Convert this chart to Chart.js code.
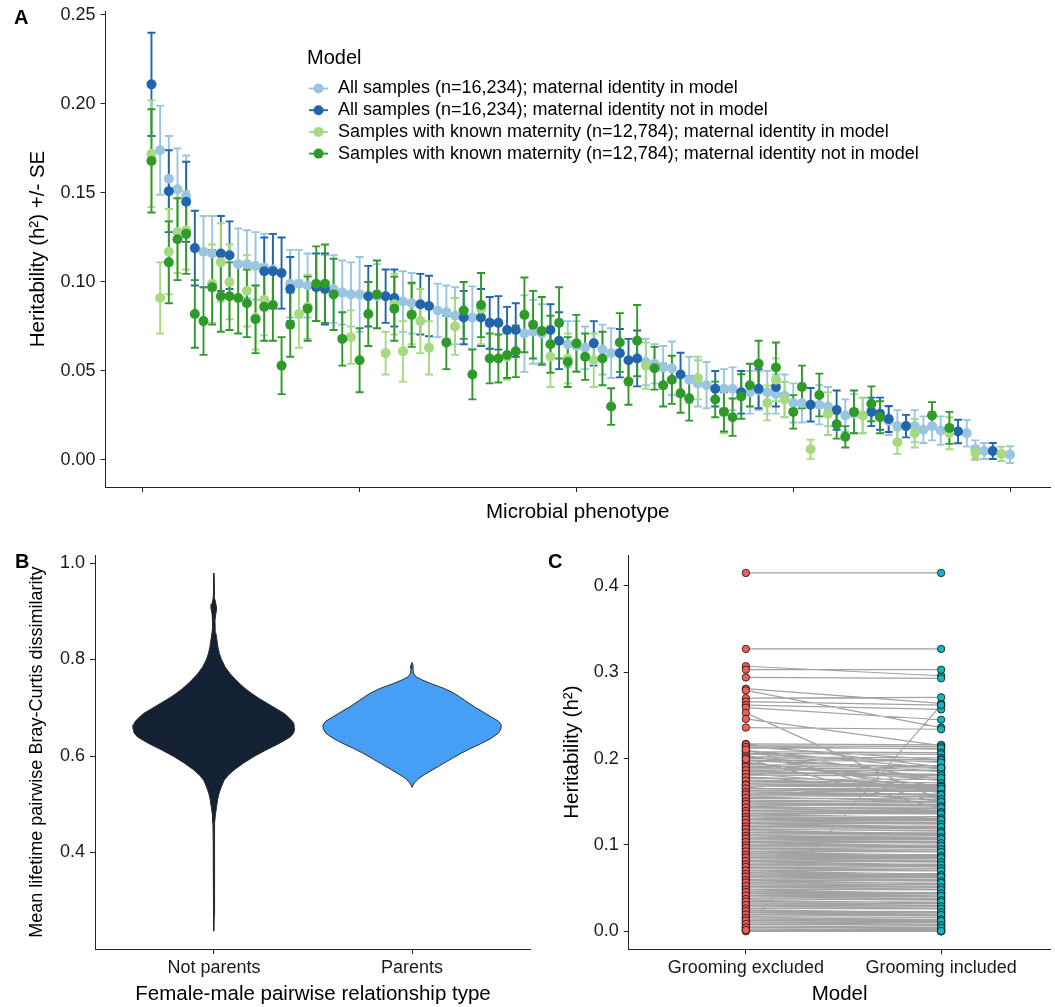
<!DOCTYPE html>
<html lang="en">
<head>
<meta charset="utf-8">
<title>Heritability of microbial phenotypes</title>
<script src="https://cdn.jsdelivr.net/npm/chart.js@4.4.1/dist/chart.umd.min.js"></script>
<style>
  html, body { margin: 0; padding: 0; background: #ffffff; }
  #page { position: relative; width: 1055px; height: 1007px; overflow: hidden; background: #ffffff; }
  #page canvas { position: absolute; }
</style>
</head>
<body>
<div id="page">
  <canvas id="panelA" width="1055" height="530" style="left:0;top:0"></canvas>
  <canvas id="panelB" width="531" height="477" style="left:0;top:530px"></canvas>
  <canvas id="panelC" width="524" height="477" style="left:531px;top:530px"></canvas>
</div>
<script>
// ---------------------------------------------------------------------------
// Panel A: heritability (+/- SE) of 100 microbial phenotypes under four models
// ---------------------------------------------------------------------------
const modelNames = [
  'All samples (n=16,234); maternal identity in model',
  'All samples (n=16,234); maternal identity not in model',
  'Samples with known maternity (n=12,784); maternal identity in model',
  'Samples with known maternity (n=12,784); maternal identity not in model'
];
const phenotypeTicks = [0, 25, 50, 75, 100];
const heritabilityTicks = [0, 0.05, 0.10, 0.15, 0.20, 0.25];

// All samples, maternal identity in model
const allMatInH2 = [
  null, 0.174, 0.158, 0.152, 0.148, null, 0.117, 0.116, null, null,
  0.110, 0.110, 0.109, 0.108, 0.107, null, 0.099, 0.099, 0.098, null,
  0.096, 0.096, 0.094, 0.093, 0.093, null, 0.092, null, null, 0.089,
  0.088, null, null, 0.084, 0.083, 0.081, null, 0.080, null, null,
  null, null, null, 0.071, 0.072, 0.071, null, null, 0.065, 0.064,
  0.063, null, 0.062, 0.060, null, null, null, 0.055, 0.054, 0.052,
  0.0515, null, 0.045, 0.043, 0.042, null, 0.040, 0.040, null, 0.038,
  0.039, 0.038, 0.037, 0.036, 0.032, 0.032, null, 0.031, 0.030, null,
  0.025, 0.026, 0.025, null, null, 0.022, 0.019, null, 0.019, 0.017,
  0.019, 0.0165, null, null, 0.015, 0.006, 0.005, null, null, 0.003
];
const allMatInSE = [
  null, 0.025, 0.024, 0.023, 0.023, null, 0.020, 0.021, null, null,
  0.020, 0.019, 0.019, 0.019, 0.020, null, 0.019, 0.019, 0.018, null,
  0.019, 0.019, 0.018, 0.018, 0.021, null, 0.018, null, null, 0.017,
  0.017, null, null, 0.015, 0.015, 0.016, null, 0.0175, null, null,
  null, null, null, 0.0215, 0.018, 0.0165, null, null, 0.013, 0.014,
  0.012, null, 0.014, 0.014, null, null, null, 0.013, 0.011, 0.012,
  0.015, null, 0.013, 0.013, 0.013, null, 0.011, 0.012, null, 0.012,
  0.011, 0.012, 0.011, 0.012, 0.011, 0.011, null, 0.011, 0.011, null,
  0.009, 0.011, 0.010, null, null, 0.008, 0.009, null, 0.009, 0.0075,
  0.008, 0.008, null, null, 0.0075, 0.005, 0.0045, null, null, 0.0047
];

// All samples, maternal identity not in model
const allMatOutH2 = [
  0.211, null, 0.151, null, 0.145, 0.119, null, null, 0.116, 0.115,
  null, null, null, 0.106, 0.106, 0.105, 0.096, null, null, 0.097,
  0.096, null, null, null, null, 0.092, null, 0.092, 0.091, null,
  null, 0.0875, 0.0865, null, null, null, 0.080, null, 0.080, 0.077,
  0.077, 0.073, 0.073, null, null, null, 0.073, 0.067, null, null,
  null, 0.0655, null, null, 0.060, 0.056, 0.057, null, null, null,
  null, 0.048, null, null, null, 0.040, null, null, 0.038, null,
  0.040, null, 0.041, null, null, null, 0.031, null, null, 0.028,
  null, null, null, 0.027, 0.026, 0.023, null, 0.019, null, null,
  null, null, null, 0.016, null, null, null, 0.005, null, null
];
const allMatOutSE = [
  0.029, null, 0.023, null, 0.0225, 0.021, null, null, 0.021, 0.019,
  null, null, null, 0.019, 0.021, 0.020, 0.018, null, null, 0.019,
  0.020, null, null, null, null, 0.017, null, 0.015, 0.016, null,
  null, 0.017, 0.017, null, null, null, 0.015, null, 0.016, 0.0145,
  0.015, 0.013, 0.015, null, null, null, 0.0145, 0.016, null, null,
  null, 0.0125, null, null, 0.0136, 0.012, 0.0157, null, null, null,
  null, 0.0122, null, null, null, 0.010, null, null, 0.012, null,
  0.011, null, 0.011, null, null, null, 0.0094, null, null, 0.011,
  null, null, null, 0.008, 0.009, 0.0073, null, 0.0063, null, null,
  null, null, null, 0.0066, null, null, null, 0.0045, null, null
];

// Known maternity, maternal identity in model
const knownMatInH2 = [
  0.172, 0.091, 0.117, 0.128, 0.129, null, null, 0.099, 0.111, 0.100,
  null, 0.095, 0.080, 0.090, null, null, null, 0.082, 0.086, null,
  null, null, null, 0.069, null, null, null, 0.060, 0.0875, 0.061,
  0.082, 0.078, 0.063, null, null, 0.075, null, null, 0.085, null,
  null, 0.058, null, null, null, null, 0.058, null, 0.057, null,
  null, 0.056, null, null, null, null, null, 0.053, null, null,
  null, null, null, 0.046, null, null, 0.027, null, null, null,
  null, 0.032, 0.045, 0.034, null, null, 0.006, null, 0.026, null,
  null, null, 0.025, null, null, null, 0.010, null, 0.015, null,
  null, null, 0.015, null, null, 0.004, null, null, 0.0034, null
];
const knownMatInSE = [
  0.030, 0.020, 0.024, 0.023, 0.022, null, null, 0.022, 0.022, 0.021,
  null, 0.020, 0.018, 0.020, null, null, null, 0.019, 0.018, null,
  null, null, null, 0.015, null, null, null, 0.012, 0.017, 0.017,
  0.017, 0.018, 0.015, null, null, 0.016, null, null, 0.020, null,
  null, 0.013, null, null, null, null, 0.017, null, 0.014, null,
  null, 0.015, null, null, null, null, null, 0.013, null, null,
  null, null, null, 0.012, null, null, 0.012, null, null, null,
  null, 0.0098, 0.012, 0.0098, null, null, 0.0054, null, 0.012, null,
  null, null, 0.010, null, null, null, 0.0066, null, 0.008, null,
  null, null, 0.009, null, null, 0.004, null, null, 0.004, null
];

// Known maternity, maternal identity not in model
const knownMatOutH2 = [
  0.168, null, 0.111, 0.124, 0.127, 0.082, 0.078, 0.097, 0.092, 0.092,
  0.091, 0.088, 0.079, 0.086, 0.087, 0.053, 0.076, null, 0.085, 0.099,
  0.099, 0.093, 0.068, null, 0.056, 0.082, 0.093, null, 0.085, null,
  0.0815, null, null, null, 0.066, null, 0.084, 0.048, 0.087, 0.057,
  0.057, 0.059, 0.061, 0.0815, 0.076, 0.0725, 0.065, 0.077, 0.055, 0.0655,
  0.058, null, 0.057, 0.030, 0.066, 0.044, 0.067, null, 0.0515, 0.042,
  0.045, 0.0375, 0.0346, null, null, 0.034, 0.027, 0.024, 0.0356, 0.042,
  0.054, null, 0.052, null, 0.027, 0.041, null, 0.0365, null, 0.020,
  0.013, 0.027, null, 0.0315, 0.024, null, null, null, null, null,
  0.025, null, 0.018, null, null, null, null, null, null, null
];
const knownMatOutSE = [
  0.029, null, 0.023, 0.023, 0.0225, 0.019, 0.019, 0.021, 0.020, 0.019,
  0.020, 0.019, 0.019, 0.019, 0.020, 0.016, 0.018, null, 0.018, 0.021,
  0.022, 0.020, 0.015, null, 0.018, 0.018, 0.019, null, 0.018, null,
  0.018, null, null, null, 0.015, null, 0.016, 0.014, 0.018, 0.014,
  0.0135, 0.013, 0.0145, 0.021, 0.019, 0.019, 0.016, 0.020, 0.014, 0.016,
  0.013, null, 0.015, 0.0103, 0.0165, 0.013, 0.020, null, 0.012, 0.012,
  0.0135, 0.011, 0.0125, null, null, 0.010, 0.011, 0.0105, 0.0125, 0.012,
  0.013, null, 0.014, null, 0.0094, 0.012, null, 0.012, null, 0.008,
  0.006, 0.012, null, 0.0098, 0.009, null, null, null, null, null,
  0.0075, null, 0.009, null, null, null, null, null, null, null
];

// ---------------------------------------------------------------------------
// Panel B: violin profiles of mean lifetime Bray-Curtis dissimilarity
// (dissimilarity value, relative density)
// ---------------------------------------------------------------------------
const relationshipTypes = ['Not parents', 'Parents'];
const dissimilarityTicks = [0.4, 0.6, 0.8, 1.0];
const notParentsDissim = [
  0.237, 0.270, 0.320, 0.370, 0.420, 0.461, 0.480, 0.495, 0.510, 0.523,
  0.537, 0.550, 0.560, 0.571, 0.585, 0.599, 0.612, 0.623, 0.632, 0.640,
  0.648, 0.657, 0.665, 0.671, 0.680, 0.688, 0.698, 0.709, 0.720, 0.730,
  0.740, 0.750, 0.760, 0.771, 0.785, 0.800, 0.812, 0.826, 0.840, 0.855,
  0.868, 0.881, 0.893, 0.905, 0.915, 0.925, 0.940, 0.960, 0.979
];
const notParentsDensity = [
  0.000, 0.004, 0.005, 0.006, 0.008, 0.011, 0.018, 0.030, 0.042, 0.058,
  0.085, 0.115, 0.160, 0.225, 0.330, 0.450, 0.580, 0.700, 0.790, 0.860,
  0.895, 0.906, 0.900, 0.885, 0.840, 0.790, 0.700, 0.600, 0.500, 0.420,
  0.350, 0.290, 0.235, 0.180, 0.125, 0.085, 0.062, 0.045, 0.034, 0.022,
  0.014, 0.012, 0.020, 0.031, 0.022, 0.011, 0.007, 0.005, 0.000
];
const parentsDissim = [
  0.535, 0.540, 0.545, 0.551, 0.557, 0.565, 0.578, 0.592, 0.606, 0.616,
  0.626, 0.636, 0.647, 0.656, 0.664, 0.672, 0.681, 0.692, 0.702, 0.716,
  0.730, 0.740, 0.750, 0.757, 0.764, 0.771, 0.780, 0.788, 0.794
];
const parentsDensity = [
  0.000, 0.012, 0.030, 0.060, 0.101, 0.170, 0.292, 0.420, 0.551, 0.660,
  0.775, 0.880, 0.966, 0.995, 1.000, 0.970, 0.888, 0.790, 0.697, 0.585,
  0.472, 0.360, 0.213, 0.120, 0.045, 0.018, 0.012, 0.011, 0.000
];

// ---------------------------------------------------------------------------
// Panel C: paired heritability estimates with and without grooming
// ---------------------------------------------------------------------------
const groomingModels = ['Grooming excluded', 'Grooming included'];
const h2Ticks = [0.0, 0.1, 0.2, 0.3, 0.4];
const groomingExcluded = [
  0.415, 0.327, 0.307, 0.303, 0.294, 0.281, 0.279, 0.270, 0.266, 0.262,
  0.259, 0.253, 0.246, 0.236, 0.004,
  0.217, 0.215, 0.214, 0.212, 0.210, 0.208, 0.206, 0.204, 0.202, 0.200,
  0.198, 0.196, 0.193, 0.191, 0.189, 0.187, 0.185, 0.183, 0.181, 0.179,
  0.177, 0.175, 0.173, 0.171,
  0.2165, 0.2135, 0.2095, 0.2055, 0.2015, 0.1975, 0.1945, 0.1905, 0.1865, 0.1825,
  0.1785, 0.1745, 0.2105, 0.1995,
  0.170, 0.168, 0.167, 0.165, 0.163, 0.162, 0.160, 0.159, 0.157, 0.156,
  0.154, 0.152, 0.151, 0.149, 0.148, 0.146, 0.145, 0.143, 0.142, 0.140,
  0.139, 0.137, 0.136, 0.134, 0.133, 0.131, 0.129, 0.128, 0.126, 0.125,
  0.123, 0.122, 0.120, 0.118, 0.117, 0.115, 0.114, 0.112, 0.111, 0.109,
  0.107, 0.106, 0.104, 0.103, 0.101, 0.100, 0.098, 0.096, 0.095, 0.093,
  0.092, 0.090, 0.089, 0.087, 0.085, 0.084, 0.082, 0.081, 0.079, 0.078,
  0.076, 0.074, 0.073, 0.071, 0.070, 0.068, 0.067, 0.065, 0.063, 0.062,
  0.060, 0.059, 0.057, 0.055, 0.054, 0.052, 0.051, 0.049, 0.048, 0.046,
  0.044, 0.043, 0.041, 0.040, 0.038, 0.036, 0.035, 0.033, 0.032, 0.030,
  0.029, 0.027, 0.025, 0.024, 0.022, 0.021, 0.019, 0.017, 0.016, 0.014,
  0.013, 0.011, 0.010, 0.008, 0.006, 0.005, 0.003, 0.002, 0.001, 0.000,
  0.1695, 0.1655, 0.1615, 0.1585, 0.1545, 0.1505, 0.1475, 0.1435, 0.1395, 0.1365,
  0.1325, 0.1295, 0.1255, 0.1215, 0.1185, 0.1145, 0.1105, 0.1075, 0.1035, 0.0995,
  0.0965, 0.0925, 0.0885, 0.0855, 0.0815, 0.0775, 0.0745, 0.0705, 0.0665, 0.0635,
  0.0595, 0.0565, 0.0525, 0.0485, 0.0455, 0.0415, 0.0375, 0.0345, 0.0305, 0.0265,
  0.0235, 0.0195, 0.0155, 0.0125, 0.0085, 0.0045, 0.0015
];
const groomingIncluded = [
  0.415, 0.327, 0.296, 0.303, 0.293, 0.264, 0.236, 0.271, 0.262, 0.257,
  0.245, 0.152, 0.215, 0.234, 0.262,
  0.216, 0.214, 0.211, 0.212, 0.176, 0.207, 0.205, 0.160, 0.201, 0.199,
  0.197, 0.168, 0.192, 0.190, 0.188, 0.186, 0.181, 0.182, 0.180, 0.163,
  0.176, 0.172, 0.170, 0.169,
  0.1905, 0.1985, 0.1885, 0.1955, 0.1845, 0.1895, 0.1745, 0.1805, 0.1775, 0.1655,
  0.1715, 0.1685, 0.1480, 0.1420,
  0.166, 0.167, 0.151, 0.163, 0.162, 0.157, 0.159, 0.155, 0.156, 0.150,
  0.153, 0.150, 0.149, 0.147, 0.146, 0.145, 0.140, 0.142, 0.139, 0.138,
  0.137, 0.136, 0.131, 0.133, 0.130, 0.129, 0.128, 0.126, 0.125, 0.121,
  0.122, 0.120, 0.119, 0.117, 0.113, 0.114, 0.112, 0.111, 0.108, 0.108,
  0.106, 0.104, 0.103, 0.099, 0.100, 0.098, 0.097, 0.095, 0.093, 0.092,
  0.088, 0.089, 0.087, 0.086, 0.084, 0.082, 0.081, 0.077, 0.078, 0.076,
  0.075, 0.073, 0.071, 0.070, 0.066, 0.067, 0.065, 0.064, 0.062, 0.060,
  0.059, 0.055, 0.056, 0.054, 0.052, 0.051, 0.049, 0.048, 0.044, 0.045,
  0.043, 0.041, 0.040, 0.038, 0.037, 0.033, 0.034, 0.032, 0.030, 0.029,
  0.027, 0.026, 0.022, 0.023, 0.021, 0.019, 0.018, 0.016, 0.013, 0.013,
  0.011, 0.010, 0.008, 0.007, 0.005, 0.003, 0.002, 0.001, 0.000, 0.000,
  0.1675, 0.1650, 0.1590, 0.1580, 0.1530, 0.1500, 0.1450, 0.1430, 0.1380, 0.1360,
  0.1310, 0.1290, 0.1240, 0.1210, 0.1160, 0.1140, 0.1090, 0.1070, 0.1020, 0.0990,
  0.0950, 0.0920, 0.0870, 0.0850, 0.0800, 0.0770, 0.0730, 0.0700, 0.0650, 0.0630,
  0.0580, 0.0560, 0.0510, 0.0480, 0.0440, 0.0410, 0.0360, 0.0340, 0.0290, 0.0260,
  0.0220, 0.0190, 0.0140, 0.0120, 0.0070, 0.0040, 0.0005
];

// ---------------------------------------------------------------------------
// Shared styling
// ---------------------------------------------------------------------------
const FONT = "'Liberation Sans', Arial, Helvetica, sans-serif";
const INK = '#1a1a1a';
const AXIS = '#222222';
Chart.defaults.font.family = FONT;
Chart.defaults.color = INK;

const modelColors = ['#9ac5e1', '#2166ac', '#a6da80', '#2f9a2a'];
const violinColors = ['#142033', '#469ff4'];
const groomingColors = ['#f25f5a', '#12b6bf'];

function tickGrid() {
  return { display: true, drawOnChartArea: false, drawTicks: true, tickLength: 5, color: AXIS, lineWidth: 1 };
}
function axisBorder() {
  return { display: true, color: AXIS, width: 1 };
}
function fixedTicks(values) {
  return scale => { scale.ticks = values.map(v => ({ value: v })); };
}
function fixWidth(w) {
  return scale => { scale.width = w; scale.paddingTop = 0; scale.paddingBottom = 0; };
}
function fixHeight(h) {
  return scale => { scale.height = h; scale.paddingLeft = 0; scale.paddingRight = 0; };
}

// Bold panel letter in the top-left corner
const panelTag = {
  id: 'panelTag',
  afterDraw(chart, args, opts) {
    const ctx = chart.ctx;
    ctx.save();
    ctx.font = `bold 20px ${FONT}`;
    ctx.fillStyle = '#000';
    ctx.textAlign = 'left';
    ctx.textBaseline = 'alphabetic';
    ctx.fillText(opts.text, opts.x, opts.y);
    ctx.restore();
  }
};

// Vertical +/- SE bars with caps, drawn underneath all points
const errorBars = {
  id: 'errorBars',
  beforeDatasetsDraw(chart) {
    const { ctx, scales: { x, y } } = chart;
    const metas = chart.getSortedVisibleDatasetMetas().slice().reverse();
    ctx.save();
    ctx.lineWidth = 1.9;
    metas.forEach(meta => {
      const ds = chart.data.datasets[meta.index];
      ctx.strokeStyle = ds.borderColor;
      ds.data.forEach((p, k) => {
        if (p.y == null) return;
        const se = ds.se[k];
        const px = x.getPixelForValue(p.x);
        const hi = y.getPixelForValue(p.y + se);
        const lo = y.getPixelForValue(p.y - se);
        ctx.beginPath();
        ctx.moveTo(px, hi); ctx.lineTo(px, lo);
        ctx.moveTo(px - 4, hi); ctx.lineTo(px + 4, hi);
        ctx.moveTo(px - 4, lo); ctx.lineTo(px + 4, lo);
        ctx.stroke();
      });
    });
    ctx.restore();
  }
};

// "Model" legend placed inside the panel
const modelLegend = {
  id: 'modelLegend',
  afterDatasetsDraw(chart, args, opts) {
    const ctx = chart.ctx;
    ctx.save();
    ctx.textAlign = 'left';
    ctx.textBaseline = 'middle';
    ctx.fillStyle = '#000';
    ctx.font = `20px ${FONT}`;
    ctx.fillText(opts.title, opts.x, opts.y);
    ctx.font = `18px ${FONT}`;
    chart.data.datasets.forEach((ds, k) => {
      const cy = opts.y + opts.firstOffset + k * opts.rowStep;
      ctx.strokeStyle = ds.borderColor;
      ctx.lineWidth = 1.9;
      ctx.beginPath();
      ctx.moveTo(opts.x + 2, cy); ctx.lineTo(opts.x + 21, cy);
      ctx.stroke();
      ctx.fillStyle = ds.backgroundColor;
      ctx.beginPath();
      ctx.arc(opts.x + 11.5, cy, 5, 0, Math.PI * 2);
      ctx.fill();
      ctx.fillStyle = '#000';
      ctx.fillText(ds.label, opts.x + 31, cy);
    });
    ctx.restore();
  }
};

// ---------------------------------------------------------------------------
// Panel A chart
// ---------------------------------------------------------------------------
const seriesH2 = [allMatInH2, allMatOutH2, knownMatInH2, knownMatOutH2];
const seriesSE = [allMatInSE, allMatOutSE, knownMatInSE, knownMatOutSE];
const phenotypeRank = allMatInH2.map((_, k) => k + 1);

new Chart(document.getElementById('panelA'), {
  type: 'scatter',
  data: {
    datasets: modelNames.map((name, s) => ({
      label: name,
      data: phenotypeRank.map((r, k) => ({ x: r, y: seriesH2[s][k] })),
      se: seriesSE[s],
      backgroundColor: modelColors[s],
      borderColor: modelColors[s],
      borderWidth: 0,
      pointRadius: 5,
      pointHoverRadius: 5,
      order: 4 - s
    }))
  },
  options: {
    responsive: false,
    animation: false,
    events: [],
    layout: { padding: { top: 11, left: 0, right: 0, bottom: 0 } },
    plugins: {
      legend: { display: false },
      tooltip: { enabled: false },
      modelLegend: { title: 'Model', x: 307, y: 58.5, firstOffset: 30, rowStep: 21.7 },
      panelTag: { text: 'A', x: 14, y: 24 }
    },
    scales: {
      x: {
        type: 'linear', min: -4.3, max: 104.6,
        afterBuildTicks: fixedTicks(phenotypeTicks),
        ticks: { callback: () => '', padding: 0 },
        grid: tickGrid(),
        border: axisBorder(),
        title: { display: true, text: 'Microbial phenotype', color: '#000', font: { size: 20.5 }, padding: { top: 0, bottom: 5 } },
        afterFit: fixHeight(43)
      },
      y: {
        type: 'linear', min: -0.0152, max: 0.2522,
        afterBuildTicks: fixedTicks(heritabilityTicks),
        ticks: { callback: v => v.toFixed(2), font: { size: 18 }, color: INK, padding: 5 },
        grid: tickGrid(),
        border: axisBorder(),
        title: { display: true, text: 'Heritability (h²) +/- SE', color: '#000', font: { size: 20.5 }, padding: { top: 25.7, bottom: 0 } },
        afterFit: fixWidth(105.5)
      }
    }
  },
  plugins: [errorBars, modelLegend, panelTag]
});

// ---------------------------------------------------------------------------
// Panel B chart: violins as closed outlines filled in their own shape
// ---------------------------------------------------------------------------
function violinOutline(center, values, density, halfWidth) {
  const right = values.map((v, k) => ({ x: center + density[k] * halfWidth, y: v }));
  const left = values.map((v, k) => ({ x: center - density[k] * halfWidth, y: v })).reverse();
  return right.concat(left);
}
const violinProfiles = [
  [notParentsDissim, notParentsDensity],
  [parentsDissim, parentsDensity]
];

new Chart(document.getElementById('panelB'), {
  type: 'scatter',
  data: {
    datasets: violinProfiles.map(([vals, dens], k) => ({
      label: relationshipTypes[k],
      data: violinOutline(k + 1, vals, dens, 0.45),
      showLine: true,
      fill: 'shape',
      tension: 0,
      backgroundColor: violinColors[k],
      borderColor: '#2b2b2b',
      borderWidth: 1,
      pointRadius: 0,
      pointHoverRadius: 0
    }))
  },
  options: {
    responsive: false,
    animation: false,
    events: [],
    layout: { padding: { top: 25.3, left: 0, right: 0, bottom: 0 } },
    plugins: {
      legend: { display: false },
      tooltip: { enabled: false },
      panelTag: { text: 'B', x: 15, y: 38 }
    },
    scales: {
      x: {
        type: 'linear', min: 0.4, max: 2.6,
        afterBuildTicks: fixedTicks([1, 2]),
        ticks: { callback: v => relationshipTypes[v - 1], font: { size: 18 }, color: INK, padding: 3, maxRotation: 0 },
        grid: tickGrid(),
        border: axisBorder(),
        title: { display: true, text: 'Female-male pairwise relationship type', color: '#000', font: { size: 20.5 }, padding: { top: 0, bottom: 0 } },
        afterFit: fixHeight(58)
      },
      y: {
        type: 'linear', min: 0.2, max: 1.016,
        afterBuildTicks: fixedTicks(dissimilarityTicks),
        ticks: { callback: v => v.toFixed(1), font: { size: 18 }, color: INK, padding: 5 },
        grid: tickGrid(),
        border: axisBorder(),
        title: { display: true, text: 'Mean lifetime pairwise Bray-Curtis dissimilarity', color: '#000', font: { size: 18 }, padding: { top: 26.7, bottom: 0 } },
        afterFit: fixWidth(95)
      }
    }
  },
  plugins: [panelTag]
});

// ---------------------------------------------------------------------------
// Panel C chart: paired estimates joined by grey segments
// ---------------------------------------------------------------------------
const pairSegments = [];
groomingExcluded.forEach((h, k) => {
  pairSegments.push({ x: 1, y: h }, { x: 2, y: groomingIncluded[k] }, { x: 1.5, y: null });
});

new Chart(document.getElementById('panelC'), {
  type: 'scatter',
  data: {
    datasets: [
      {
        label: 'pairs',
        data: pairSegments,
        showLine: true,
        spanGaps: false,
        borderColor: '#a2a2a2',
        borderWidth: 1.2,
        pointRadius: 0,
        pointHoverRadius: 0,
        order: 3
      },
      {
        label: groomingModels[0],
        data: groomingExcluded.map(h => ({ x: 1, y: h })),
        backgroundColor: groomingColors[0],
        borderColor: '#111111',
        borderWidth: 0.8,
        pointRadius: 3.7,
        pointHoverRadius: 3.7,
        order: 2
      },
      {
        label: groomingModels[1],
        data: groomingIncluded.map(h => ({ x: 2, y: h })),
        backgroundColor: groomingColors[1],
        borderColor: '#111111',
        borderWidth: 0.8,
        pointRadius: 3.7,
        pointHoverRadius: 3.7,
        order: 1
      }
    ]
  },
  options: {
    responsive: false,
    animation: false,
    events: [],
    layout: { padding: { top: 25, left: 0, right: 0, bottom: 0 } },
    plugins: {
      legend: { display: false },
      tooltip: { enabled: false },
      panelTag: { text: 'C', x: 17, y: 38 }
    },
    scales: {
      x: {
        type: 'linear', min: 0.4, max: 2.56,
        afterBuildTicks: fixedTicks([1, 2]),
        ticks: { callback: v => groomingModels[v - 1], font: { size: 18 }, color: INK, padding: 3, maxRotation: 0 },
        grid: tickGrid(),
        border: axisBorder(),
        title: { display: true, text: 'Model', color: '#000', font: { size: 20.5 }, padding: { top: 0, bottom: 0 } },
        afterFit: fixHeight(57.7)
      },
      y: {
        type: 'linear', min: -0.0208, max: 0.4358,
        afterBuildTicks: fixedTicks(h2Ticks),
        ticks: { callback: v => v.toFixed(1), font: { size: 18 }, color: INK, padding: 5 },
        grid: tickGrid(),
        border: axisBorder(),
        title: { display: true, text: 'Heritability (h²)', color: '#000', font: { size: 20.5 }, padding: { top: 29, bottom: 0 } },
        afterFit: fixWidth(97.7)
      }
    }
  },
  plugins: [panelTag]
});
</script>
</body>
</html>
